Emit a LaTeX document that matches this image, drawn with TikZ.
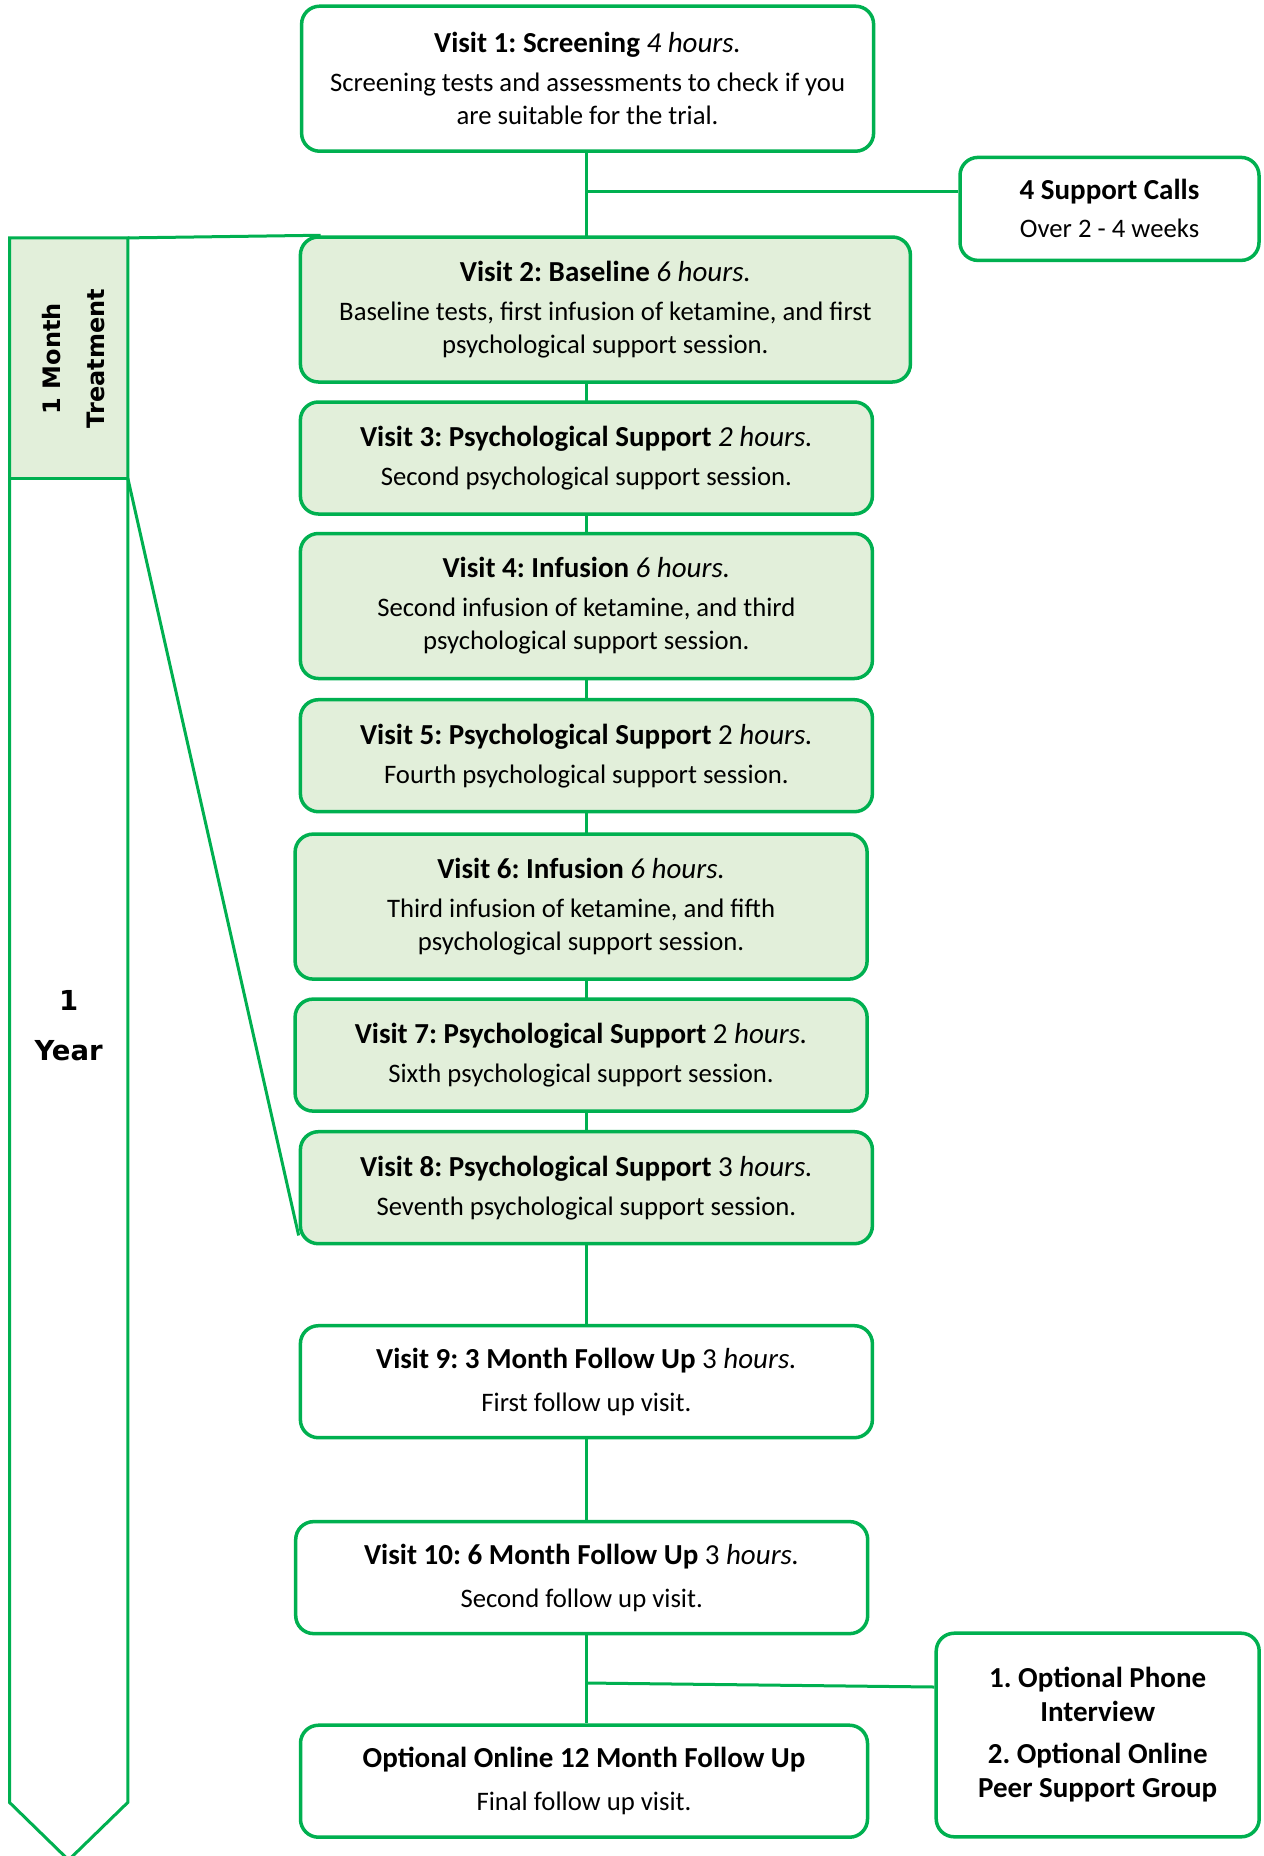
\documentclass[tikz,border=0pt]{standalone}
\usepackage{fontspec}
\setmainfont{Carlito}
\newfontfamily\verdfont{DejaVu Sans}
\usetikzlibrary{calc,backgrounds}
\definecolor{trialgreen}{HTML}{00B050}
\definecolor{paleGreen}{HTML}{E2EFDA}
\newcommand{\visittitle}[2]{{\fontsize{29}{33}\selectfont\textbf{#1} #2}}

\begin{document}
\frenchspacing
\begin{tikzpicture}[x=1pt, y=1pt,
    visit/.style={rectangle, rounded corners=18pt, draw=trialgreen, line width=3.5pt, fill=white, minimum width=572pt, minimum height=112pt, align=center, inner sep=0pt, font=\fontsize{26.7}{33}\selectfont},
    treat/.style={visit, fill=paleGreen},
    tall/.style={minimum height=145pt},
    link/.style={draw=trialgreen, line width=3pt},
    side/.style={font=\verdfont\bfseries\fontsize{24}{44}\selectfont, align=center}
]
\useasboundingbox (0,0) rectangle (1264,-1856);

% Time line on the left
\fill[paleGreen] (9.5,-237.9) rectangle (127.8,-478.1);
\draw[link, line join=miter] (9.5,-237.9) -- (127.8,-237.9) -- (127.8,-1802.4) -- (68.6,-1860) -- (9.5,-1802.4) -- cycle;
\coordinate (mTop) at (127.8,-237.9);
\coordinate (mBot) at (127.8,-478.1);
\draw[link] (9.5,-478.1) -- (mBot);
\node[side, rotate=90] (month) at (74,-358.6) {1 Month\\Treatment};
\node[side, font=\verdfont\bfseries\fontsize{27.5}{50}\selectfont] (year) at (68.6,-1025.5) {1\\Year};

% Screening
\node[visit, tall] (v1) at (587.6,-78.7) {\visittitle{Visit 1: Screening}{\textit{4 hours.}}\\[6pt]
  Screening tests and assessments to check if you\\ are suitable for the trial.};
\node[visit, minimum width=299pt, minimum height=103pt] (calls) at (1109.5,-208.9) {\visittitle{4 Support Calls}{}\\[5pt] Over 2 - 4 weeks};

% Treatment month
\node[treat, tall, minimum width=610pt] (v2) at (605.4,-309.5) {\visittitle{Visit 2: Baseline}{\textit{6 hours.}}\\[6pt]
  Baseline tests, first infusion of ketamine, and first\\ psychological support session.};
\node[treat] (v3) at (586.4,-458) {\visittitle{Visit 3: Psychological Support}{\textit{2 hours.}}\\[6pt]
  Second psychological support session.};
\node[treat, tall] (v4) at (586.4,-606) {\visittitle{Visit 4: Infusion}{\textit{6 hours.}}\\[6pt]
  Second infusion of ketamine, and third\\ psychological support session.};
\node[treat] (v5) at (586.4,-755.7) {\visittitle{Visit 5: Psychological Support}{2 \textit{hours.}}\\[6pt]
  Fourth psychological support session.};
\node[treat, tall] (v6) at (581.1,-906.6) {\visittitle{Visit 6: Infusion}{\textit{6 hours.}}\\[6pt]
  Third infusion of ketamine, and fifth\\ psychological support session.};
\node[treat] (v7) at (581.1,-1055.1) {\visittitle{Visit 7: Psychological Support}{2 \textit{hours.}}\\[6pt]
  Sixth psychological support session.};
\node[treat] (v8) at (586.4,-1187.7) {\visittitle{Visit 8: Psychological Support}{3 \textit{hours.}}\\[6pt]
  Seventh psychological support session.};

% Follow up
\node[visit] (v9) at (586.4,-1381.7) {\visittitle{Visit 9: 3 Month Follow Up}{3 \textit{hours.}}\\[10pt]
  First follow up visit.};
\node[visit] (v10) at (581.7,-1577.6) {\visittitle{Visit 10: 6 Month Follow Up}{3 \textit{hours.}}\\[10pt]
  Second follow up visit.};
\node[visit, minimum width=567pt] (opt) at (584,-1781.2) {\visittitle{Optional Online 12 Month Follow Up}{}\\[10pt]
  Final follow up visit.};
\node[visit, minimum width=323pt, minimum height=203.6pt, font=\fontsize{29}{34}\selectfont\bfseries] (phone) at (1097.7,-1735) {1. Optional Phone\\ Interview\\[8pt] 2. Optional Online\\ Peer Support Group};

% Connectors
\begin{scope}[on background layer]
\draw[link] (v3.north |- v1.south) -- (v3.north |- opt.north);
\coordinate (j1) at (v3.north |- 0,-191.7);
\draw[link] (j1) -- (j1 -| calls.west);
\coordinate (j2) at (v3.north |- 0,-1683);
\coordinate (p2) at ($(phone.west)+(0,48)$);
\draw[link] (j2) -- (p2);
\draw[link] (mTop) -- ($(v2.north west)+(22,0)$);
\draw[link] (mBot) -- ($(v8.south west)+(0,10)$);
\end{scope}
\end{tikzpicture}
\end{document}
